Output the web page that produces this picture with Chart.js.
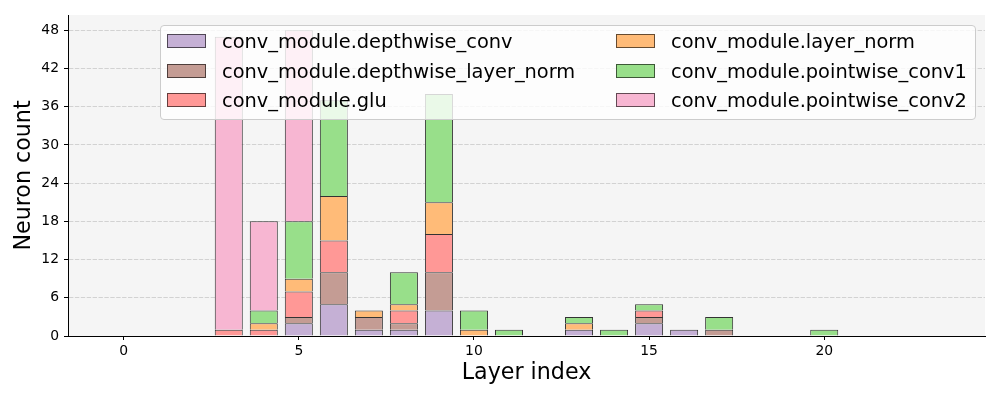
<!DOCTYPE html>
<html><head><meta charset="utf-8">
<script src="https://cdn.jsdelivr.net/npm/chart.js@4.4.1/dist/chart.umd.min.js"></script>
<style>
html,body{margin:0;padding:0;background:#fff;}
#wrap{position:relative;width:1000px;height:400px;overflow:hidden;}
canvas{position:absolute;left:0;top:0;}
#legend{position:absolute;left:159.5px;top:25px;width:816px;height:95px;box-sizing:border-box;border:1px solid #cccccc;border-radius:4px;background:rgba(255,255,255,0.8);font-family:"DejaVu Sans";font-size:19.4px;color:#000;}
.item{position:absolute;display:flex;align-items:center;height:24px;white-space:nowrap;}
.patch{width:39px;height:14px;box-sizing:border-box;border:1px solid rgba(0,0,0,0.6);margin-right:16px;flex:none;}
</style></head>
<body>
<div id="wrap"><canvas id="c" width="1000" height="400"></canvas><div id="legend"></div></div>
<script>
const layers = [0,1,2,3,4,5,6,7,8,9,10,11,12,13,14,15,16,17,18,19,20,21,22,23];
const seriesNames = ["conv_module.depthwise_conv","conv_module.depthwise_layer_norm","conv_module.glu","conv_module.layer_norm","conv_module.pointwise_conv1","conv_module.pointwise_conv2"];
const seriesColors = ["#c5b0d5","#c49c94","#ff9896","#ffbb78","#98df8a","#f7b6d2"];
//                     0 1 2 3  4  5  6 7 8  9 10 11 12 13 14 15 16 17 18 19 20 21 22 23
const depthwiseConv = [0,0,0,0, 0, 2, 5,1,1, 4, 0, 0, 0, 1, 0, 2, 1, 0, 0, 0, 0, 0, 0, 0];
const depthwiseLN   = [0,0,0,0, 0, 1, 5,2,1, 6, 0, 0, 0, 0, 0, 1, 0, 1, 0, 0, 0, 0, 0, 0];
const glu           = [0,0,0,1, 1, 4, 5,0,2, 6, 0, 0, 0, 0, 0, 1, 0, 0, 0, 0, 0, 0, 0, 0];
const layerNorm     = [0,0,0,0, 1, 2, 7,1,1, 5, 1, 0, 0, 1, 0, 0, 0, 0, 0, 0, 0, 0, 0, 0];
const pointwise1    = [0,0,0,0, 2, 9,15,0,5,17, 3, 1, 0, 1, 1, 1, 0, 2, 0, 0, 1, 0, 0, 0];
const pointwise2    = [0,0,0,46,14,30,0,0,0, 0, 0, 0, 0, 0, 0, 0, 0, 0, 0, 0, 0, 0, 0, 0];
const seriesValues = [depthwiseConv, depthwiseLN, glu, layerNorm, pointwise1, pointwise2];
const yTicks = [0,6,12,18,24,30,36,42,48];
const xTicks = [0,5,10,15,20];

const datasets = seriesNames.map((name, i) => ({
  label: name,
  data: layers.map((L, j) => ({x: L, y: seriesValues[i][j] ? seriesValues[i][j] : null})),
  backgroundColor: seriesColors[i],
  borderColor: '#333333',
  borderWidth: 1,
  barPercentage: 0.8,
  categoryPercentage: 1.0
}));

const bgPlugin = {id:'bg', beforeDraw(chart){const {ctx, chartArea:a} = chart; ctx.save(); ctx.fillStyle = '#f5f5f5'; ctx.fillRect(a.left, a.top, a.right - a.left, a.bottom - a.top); ctx.restore();}};

const tickFont = {family:'DejaVu Sans', size:13.9};
const titleFont = {family:'DejaVu Sans', size:22.2};

new Chart(document.getElementById('c'), {
  type: 'bar',
  data: {datasets},
  plugins: [bgPlugin],
  options: {
    responsive:false, animation:false, devicePixelRatio:1,
    layout:{padding:{left:0,right:15,top:15,bottom:0}},
    plugins:{legend:{display:false}, tooltip:{enabled:false}},
    scales:{
      x:{type:'linear', stacked:true, min:-1.59, max:24.59, offset:false,
        afterFit(s){ s.height = 64; },
        afterBuildTicks(s){ s.ticks = xTicks.map(v => ({value:v})); },
        ticks:{color:'#000', font:tickFont, padding:3, maxRotation:0, autoSkip:false},
        grid:{offset:false, drawOnChartArea:false, tickLength:4, tickColor:'#000', tickWidth:1},
        border:{color:'#000', width:1},
        title:{display:true, text:'Layer index', color:'#000', font:titleFont, padding:{top:0,bottom:13.7}}
      },
      y:{stacked:true, min:0, max:50.4,
        afterFit(s){ s.width = 68; },
        afterBuildTicks(s){ s.ticks = yTicks.map(v => ({value:v})); },
        ticks:{color:'#000', font:tickFont, padding:5, autoSkip:false},
        grid:{offset:false, color:'#d2d2d2', lineWidth:1, tickLength:4, tickColor:'#000', tickWidth:1, tickBorderDash:[]},
        border:{color:'#000', width:1, dash:[4.4,1.5]},
        title:{display:true, text:'Neuron count', color:'#000', font:titleFont, padding:{top:10.7,bottom:0}}
      }
    }
  }
});

// HTML legend (column-major, 2 columns x 3 rows)
const legend = document.getElementById('legend');
const colX = [6.5, 455.5];
const rowY = [15.3, 45, 74.3];
seriesNames.forEach((name, i) => {
  const col = Math.floor(i / 3), row = i % 3;
  const it = document.createElement('div');
  it.className = 'item';
  it.style.left = colX[col] + 'px';
  it.style.top = (rowY[row] - 12) + 'px';
  const p = document.createElement('span');
  p.className = 'patch';
  p.style.background = seriesColors[i];
  const t = document.createElement('span');
  t.textContent = name;
  it.appendChild(p); it.appendChild(t);
  legend.appendChild(it);
});
</script>
</body></html>
